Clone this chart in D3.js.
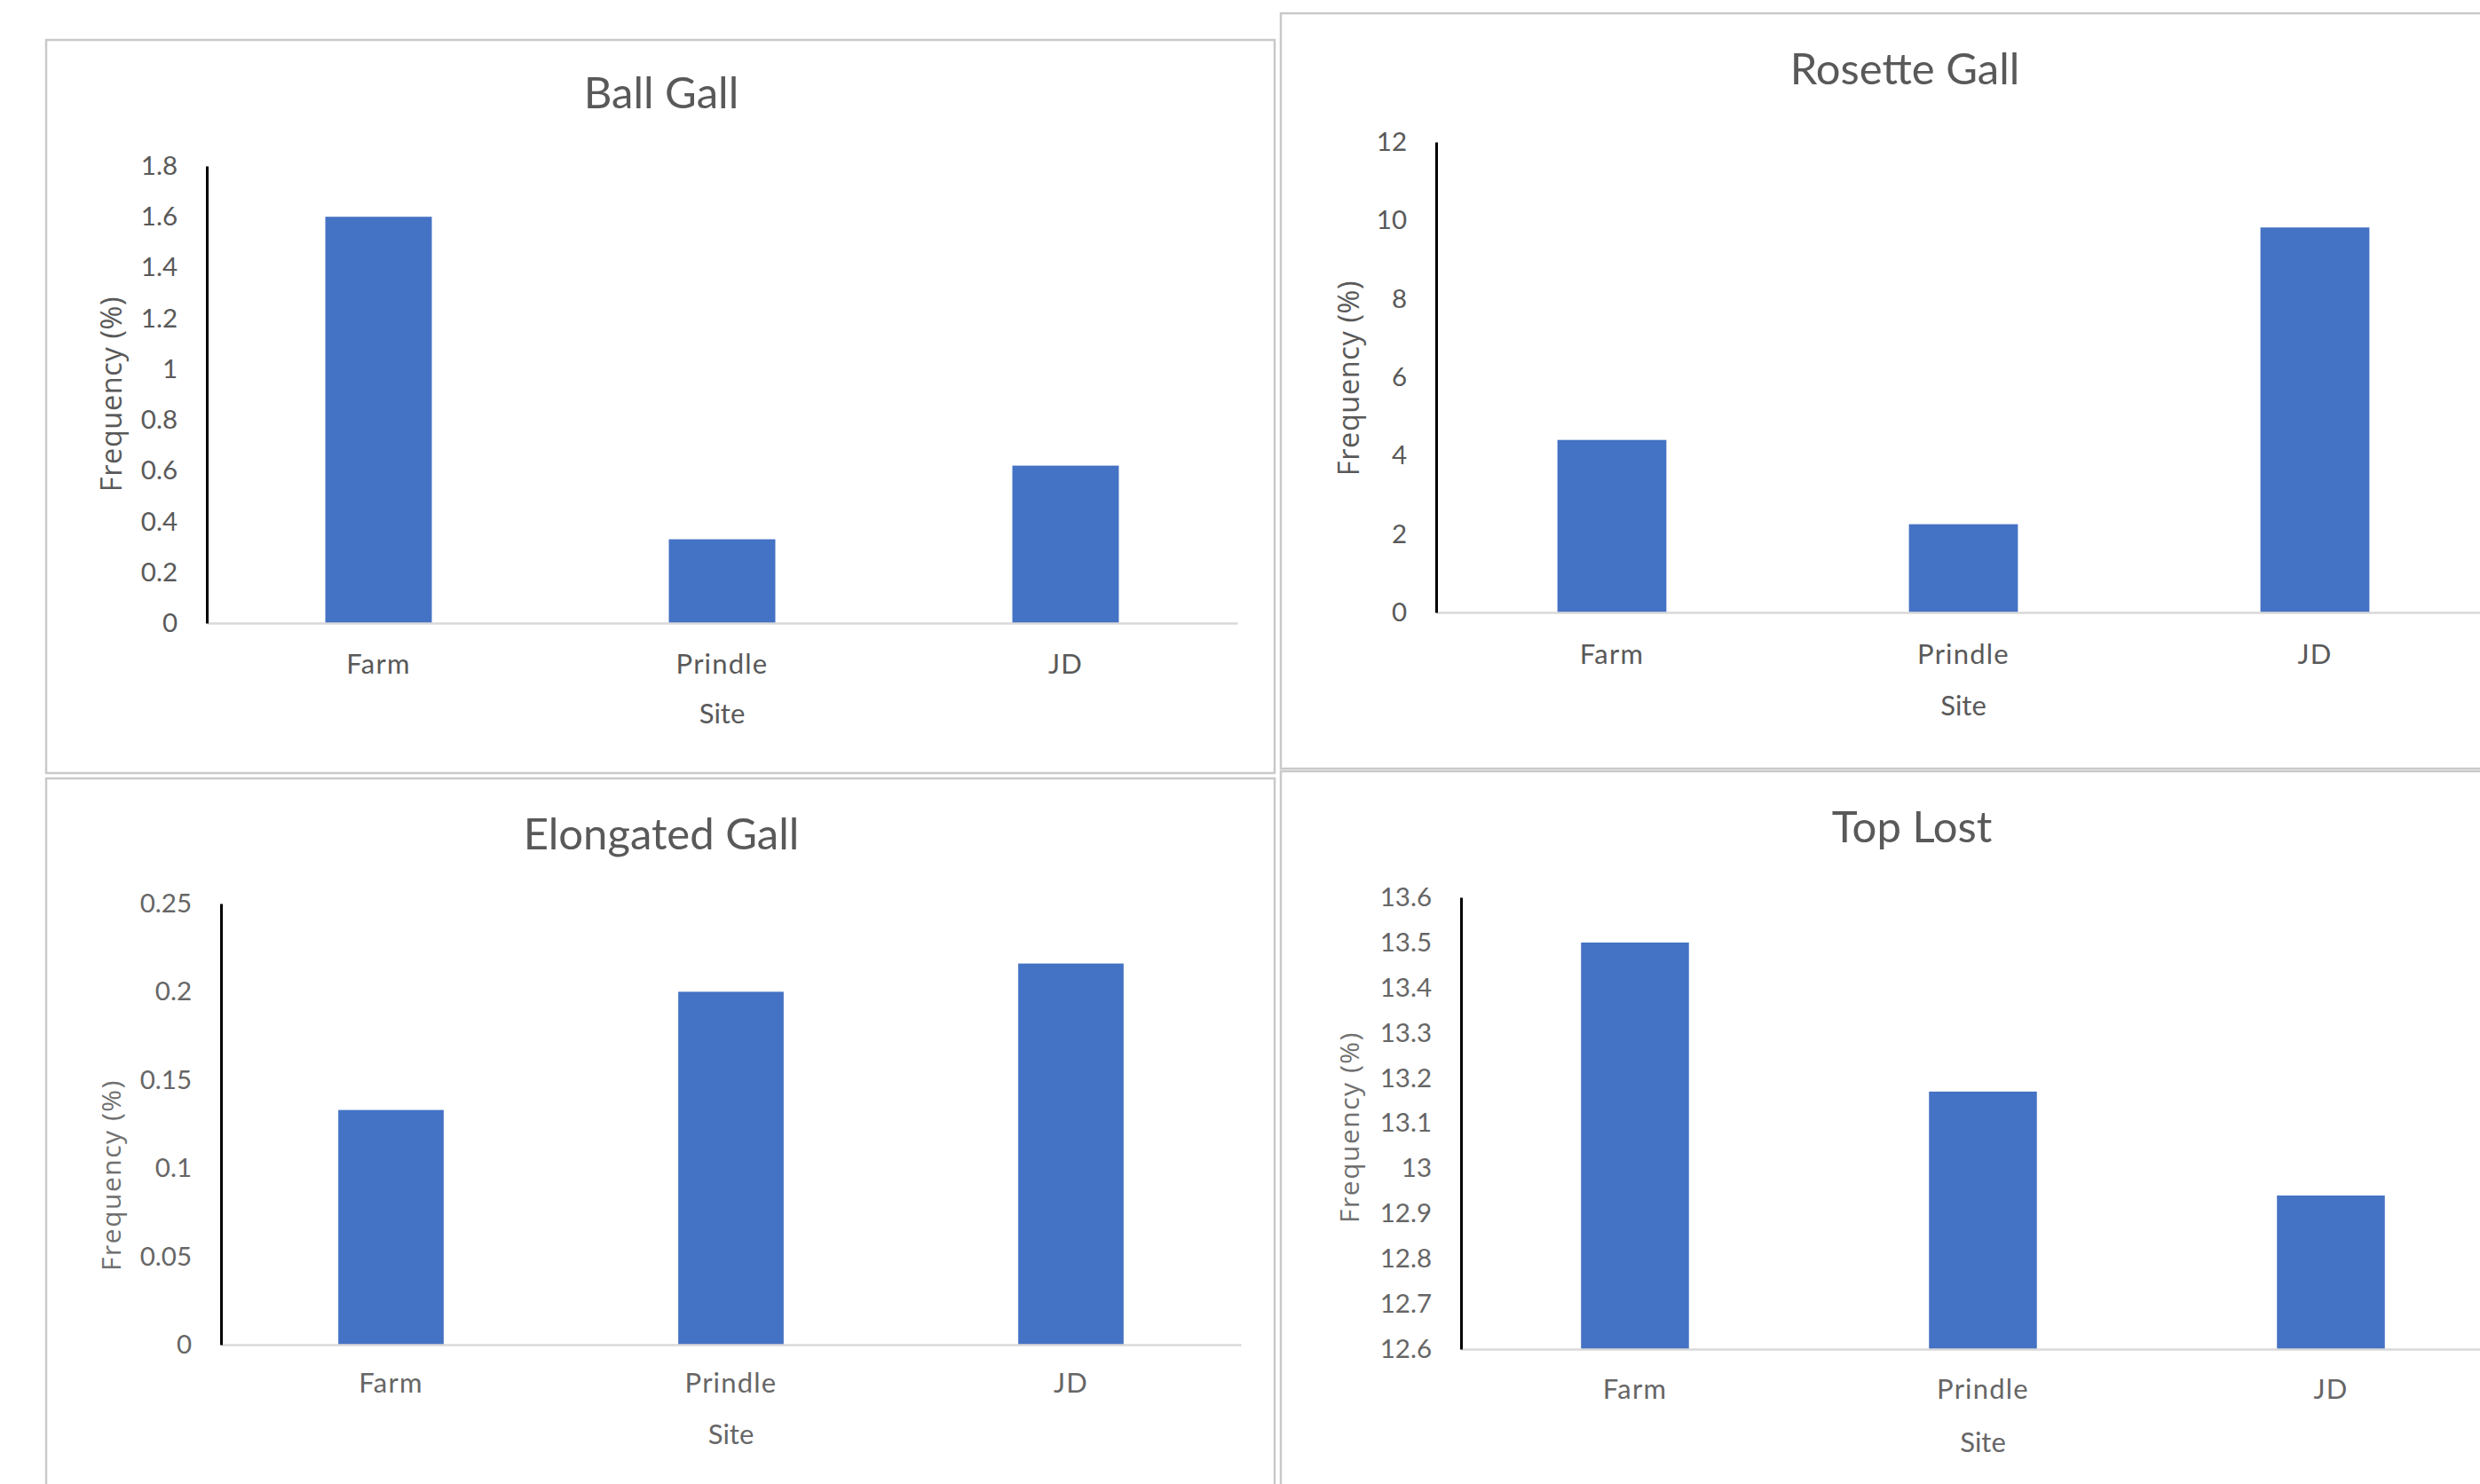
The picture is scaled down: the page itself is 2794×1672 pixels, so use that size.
<!DOCTYPE html>
<html>
<head>
<meta charset="utf-8">
<script src="https://cdn.jsdelivr.net/npm/d3@7"></script>
<style>
  html, body { margin: 0; padding: 0; background: #ffffff; }
  svg { display: block; }
</style>
</head>
<body>
<svg id="chart" width="2794" height="1672"></svg>
<script>
// Gall and top-loss frequency (%) by site
const sites = ["Farm", "Prindle", "JD"];

const ballGall      = [1.6, 0.33, 0.62];
const rosetteGall   = [4.4, 2.25, 9.82];
const elongatedGall = [0.133, 0.2, 0.216];
const topLost       = [13.5, 13.17, 12.94];

const ballTicks      = [0, 0.2, 0.4, 0.6, 0.8, 1, 1.2, 1.4, 1.6, 1.8];
const ballTickLabels = ["0", "0.2", "0.4", "0.6", "0.8", "1", "1.2", "1.4", "1.6", "1.8"];

const rosetteTicks      = [0, 2, 4, 6, 8, 10, 12];
const rosetteTickLabels = ["0", "2", "4", "6", "8", "10", "12"];

const elongatedTicks      = [0, 0.05, 0.1, 0.15, 0.2, 0.25];
const elongatedTickLabels = ["0", "0.05", "0.1", "0.15", "0.2", "0.25"];

const topLostTicks      = [12.6, 12.7, 12.8, 12.9, 13, 13.1, 13.2, 13.3, 13.4, 13.5, 13.6];
const topLostTickLabels = ["12.6", "12.7", "12.8", "12.9", "13", "13.1", "13.2", "13.3", "13.4", "13.5", "13.6"];

const titles = ["Ball Gall", "Rosette Gall", "Elongated Gall", "Top Lost"];
const xTitle = "Site";
const yTitle = "Frequency (%)";

// Layout of each chart frame on the page
const panels = [
  { title: titles[0], values: ballGall, ticks: ballTicks, labels: ballTickLabels,
    box: [52, 45, 1384, 826], x0: 233, x1: 1394, yTop: 187, yZero: 702,
    titlePos: [745, 122], yLabelPos: [126, 444], catGap: 57, siteGap: 113, faded: false },
  { title: titles[1], values: rosetteGall, ticks: rosetteTicks, labels: rosetteTickLabels,
    box: [1443, 15, 1420, 851], x0: 1618, x1: 2806, yTop: 160, yZero: 690,
    titlePos: [2146, 95], yLabelPos: [1520, 426], catGap: 58, siteGap: 116, faded: false },
  { title: titles[2], values: elongatedGall, ticks: elongatedTicks, labels: elongatedTickLabels,
    box: [52, 877, 1384, 900], x0: 249, x1: 1398, yTop: 1018, yZero: 1515,
    titlePos: [745, 957], yLabelPos: [125, 1324], catGap: 54, siteGap: 112, faded: true },
  { title: titles[3], values: topLost, ticks: topLostTicks, labels: topLostTickLabels,
    box: [1443, 869, 1420, 900], x0: 1646, x1: 2822, yTop: 1011, yZero: 1520,
    titlePos: [2154, 949], yLabelPos: [1520, 1270], catGap: 56, siteGap: 116, faded: true }
];

const BAR = "#4472c4";
const TEXT = "#595959";
const FONT = "Lato, 'Open Sans', sans-serif";

const svg = d3.select("#chart");

panels.forEach(p => {
  const g = svg.append("g");

  // frame
  g.append("rect")
    .attr("x", p.box[0]).attr("y", p.box[1])
    .attr("width", p.box[2]).attr("height", p.box[3])
    .attr("fill", "#ffffff")
    .attr("stroke", "#c9c9c9").attr("stroke-width", 2.5);

  const x = d3.scaleBand()
    .domain(sites)
    .range([p.x0, p.x1])
    .paddingInner(0.69)
    .paddingOuter(0.345);

  const y = d3.scaleLinear()
    .domain([p.ticks[0], p.ticks[p.ticks.length - 1]])
    .range([p.yZero, p.yTop]);

  // title
  g.append("text")
    .attr("x", p.titlePos[0]).attr("y", p.titlePos[1])
    .attr("text-anchor", "middle")
    .attr("font-family", FONT).attr("font-size", 49)
    .attr("fill", TEXT)
    .text(p.title);

  // bars
  g.selectAll("rect.bar")
    .data(p.values.map((v, i) => ({ site: sites[i], value: v })))
    .join("rect")
    .attr("class", "bar")
    .attr("x", d => x(d.site))
    .attr("width", x.bandwidth())
    .attr("y", d => y(d.value))
    .attr("height", d => y(p.ticks[0]) - y(d.value))
    .attr("fill", BAR);

  // category axis
  const xAxis = g.append("g")
    .attr("transform", `translate(0,${p.yZero})`)
    .call(d3.axisBottom(x).tickSize(0).tickSizeOuter(0).tickPadding(p.catGap - 22));
  xAxis.select(".domain").attr("stroke", "#d9d9d9").attr("stroke-width", 2.5);
  xAxis.selectAll("text")
    .attr("font-family", FONT).attr("font-size", 31)
    .attr("letter-spacing", 1.2)
    .attr("fill", p.faded ? "#666666" : TEXT);

  // value axis
  const yAxis = g.append("g")
    .attr("transform", `translate(${p.x0},0)`)
    .call(d3.axisLeft(y)
      .tickValues(p.ticks)
      .tickFormat((d, i) => p.labels[i])
      .tickSize(0).tickSizeOuter(0).tickPadding(33));
  yAxis.select(".domain").attr("stroke", "#000000").attr("stroke-width", 3);
  yAxis.selectAll("text")
    .attr("font-family", FONT).attr("font-size", 29.5)
    .attr("fill", p.faded ? "#666666" : TEXT);

  // axis titles
  g.append("text")
    .attr("x", (p.x0 + p.x1) / 2).attr("y", p.yZero + p.siteGap)
    .attr("text-anchor", "middle")
    .attr("font-family", FONT).attr("font-size", 31)
    .attr("fill", p.faded ? "#666666" : TEXT)
    .text(xTitle);

  g.append("text")
    .attr("transform", `translate(${p.yLabelPos[0]},${p.yLabelPos[1]}) rotate(-90)`)
    .attr("text-anchor", "middle")
    .attr("dy", "0.35em")
    .attr("font-family", "'Open Sans', sans-serif")
    .attr("font-size", p.faded ? 30 : 32.5)
    .attr("letter-spacing", p.faded ? 1.5 : 0.6)
    .attr("fill", p.faded ? "#707070" : TEXT)
    .text(yTitle);
});
</script>
</body>
</html>
